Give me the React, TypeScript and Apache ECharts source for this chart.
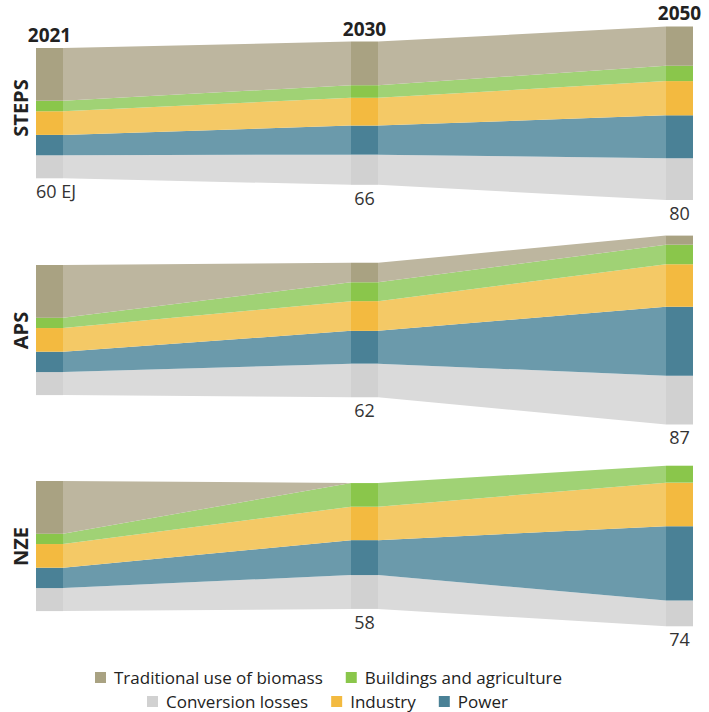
import React, { useEffect, useRef } from 'react';
import * as echarts from 'echarts';

const years = ['2021', '2030', '2050'];
const scenarios = ['STEPS', 'APS', 'NZE'];
// stacking order: bottom -> top
const categoryNames = ['Conversion losses', 'Power', 'Industry', 'Buildings and agriculture', 'Traditional use of biomass'];
const barColors = ['#D1D1D1', '#4A8196', '#F3BA40', '#8AC64B', '#A9A282'];
const bandColors = ['#DADADA', '#6B9AAB', '#F4C966', '#A0D275', '#BDB69F'];

// EJ values per year (2021, 2030, 2050)
const stepsLosses = [10.6, 13.9, 19.2];
const stepsPower = [9.4, 13.4, 19.8];
const stepsIndustry = [10.9, 12.8, 15.8];
const stepsBuildings = [4.8, 5.8, 7.1];
const stepsBiomass = [24.3, 20.1, 18.1];

const apsLosses = [10.6, 15.5, 22.4];
const apsPower = [9.4, 15.1, 31.8];
const apsIndustry = [10.9, 13.7, 19.6];
const apsBuildings = [4.8, 8.7, 9.0];
const apsBiomass = [24.3, 9.0, 4.2];

const nzeLosses = [10.6, 15.6, 11.9];
const nzePower = [9.4, 16.1, 34.2];
const nzeIndustry = [10.9, 15.4, 20.1];
const nzeBuildings = [4.8, 10.9, 7.8];
const nzeBiomass = [24.3, 0, 0];

const scenarioLayers = [
  [stepsLosses, stepsPower, stepsIndustry, stepsBuildings, stepsBiomass],
  [apsLosses, apsPower, apsIndustry, apsBuildings, apsBiomass],
  [nzeLosses, nzePower, nzeIndustry, nzeBuildings, nzeBiomass],
];

const FONT = '"Open Sans", sans-serif';
const BAR_HALF = 13.5;
const panelCenters = [113.2, 330, 546];
const Y_HALF = 45;
const PX_PER_EJ = 2.17;

function buildStacks(layers: number[][]) {
  const totals = years.map((_, i) => layers.reduce((s, l) => s + l[i], 0));
  const out: number[][][] = layers.map(() => []);
  years.forEach((_, i) => {
    let acc = -totals[i] / 2;
    layers.forEach((l, k) => {
      out[k].push([i, acc, acc + l[i]]);
      acc += l[i];
    });
  });
  return { stacks: out, totals };
}

export default function App() {
  const ref = useRef<HTMLDivElement>(null);
  useEffect(() => {
    if (!ref.current) return;
    const chart = echarts.init(ref.current, undefined, { renderer: 'svg' });
    const gridH = 2 * Y_HALF * PX_PER_EJ;
    const grids: any[] = [];
    const xAxes: any[] = [];
    const yAxes: any[] = [];
    const series: any[] = [];
    scenarios.forEach((sc, p) => {
      grids.push({ left: 49.5, right: 29.5, top: panelCenters[p] - gridH / 2, height: gridH });
      xAxes.push({ type: 'value', gridIndex: p, min: 0, max: 2, show: false });
      yAxes.push({ type: 'value', gridIndex: p, min: -Y_HALF, max: Y_HALF, show: false });
      const { stacks, totals } = buildStacks(scenarioLayers[p]);
      stacks.forEach((st, k) => {
        series.push({
          type: 'custom',
          name: categoryNames[k],
          xAxisIndex: p,
          yAxisIndex: p,
          silent: true,
          itemStyle: { color: barColors[k] },
          data: st,
          renderItem: (params: any, api: any) => {
            const i = params.dataIndex;
            const d = st[i];
            const top = api.coord([d[0], d[2]]);
            const bot = api.coord([d[0], d[1]]);
            const children: any[] = [];
            if (i < st.length - 1) {
              const n = st[i + 1];
              if (d[2] - d[1] > 0 || n[2] - n[1] > 0) {
                const nt = api.coord([n[0], n[2]]);
                const nb = api.coord([n[0], n[1]]);
                children.push({
                  type: 'polygon',
                  shape: {
                    points: [
                      [top[0] + BAR_HALF, top[1]],
                      [nt[0] - BAR_HALF, nt[1]],
                      [nb[0] - BAR_HALF, nb[1]],
                      [bot[0] + BAR_HALF, bot[1]],
                    ],
                  },
                  style: { fill: bandColors[k] },
                });
              }
            }
            if (d[2] - d[1] > 0) {
              children.push({
                type: 'rect',
                shape: { x: top[0] - BAR_HALF, y: top[1], width: 2 * BAR_HALF, height: bot[1] - top[1] },
                style: { fill: barColors[k] },
              });
            }
            return { type: 'group', children };
          },
        });
      });
      // labels
      series.push({
        type: 'custom',
        name: 'labels-' + sc,
        xAxisIndex: p,
        yAxisIndex: p,
        silent: true,
        data: totals.map((t, i) => [i, -t / 2, t / 2, t]),
        renderItem: (params: any, api: any) => {
          const i = params.dataIndex;
          const t = totals[i];
          const top = api.coord([i, t / 2]);
          const bot = api.coord([i, -t / 2]);
          const children: any[] = [];
          if (!(i === 0 && p > 0)) {
            const first = i === 0;
            children.push({
              type: 'text',
              x: first ? bot[0] - BAR_HALF : bot[0],
              y: bot[1] + 13,
              style: {
                text: first ? `${Math.round(t)} EJ` : `${Math.round(t)}`,
                fill: '#333',
                fontSize: 18,
                fontFamily: FONT,
                align: first ? 'left' : 'center',
                verticalAlign: 'middle',
              },
            });
          }
          if (p === 0) {
            children.push({
              type: 'text',
              x: top[0],
              y: top[1] - 13,
              style: {
                text: years[i],
                fill: '#222',
                fontSize: 19,
                fontWeight: 'bold',
                fontFamily: FONT,
                align: 'center',
                verticalAlign: 'middle',
              },
            });
          }
          return { type: 'group', children };
        },
      });
    });

    const panelLabelY = [108, 330.5, 546.5];
    const legendBase = {
      icon: 'rect',
      itemWidth: 11,
      itemHeight: 11,
      itemGap: 23,
      padding: 0,
      selectedMode: false,
      textStyle: { fontSize: 17, color: '#222', fontFamily: FONT, padding: [0, 0, 0, 3] },
    };
    const option: any = {
      animation: false,
      grid: grids,
      xAxis: xAxes,
      yAxis: yAxes,
      series,
      legend: [
        {
          ...legendBase,
          data: ['Traditional use of biomass', 'Buildings and agriculture'],
          left: 95,
          top: 669,
        },
        {
          ...legendBase,
          data: ['Conversion losses', 'Industry', 'Power'],
          left: 147,
          top: 693,
        },
      ],
      graphic: scenarios.map((sc, p) => ({
        type: 'text',
        x: 20,
        y: panelLabelY[p],
        rotation: Math.PI / 2,
        style: {
          text: sc,
          fill: '#222',
          fontSize: 20,
          fontWeight: 'bold',
          fontFamily: FONT,
          align: 'center',
          verticalAlign: 'middle',
        },
      })),
    };
    chart.setOption(option);
    return () => chart.dispose();
  }, []);
  return <div ref={ref} style={{ position: 'absolute', left: 0, top: 0, width: 709, height: 712 }} />;
}
